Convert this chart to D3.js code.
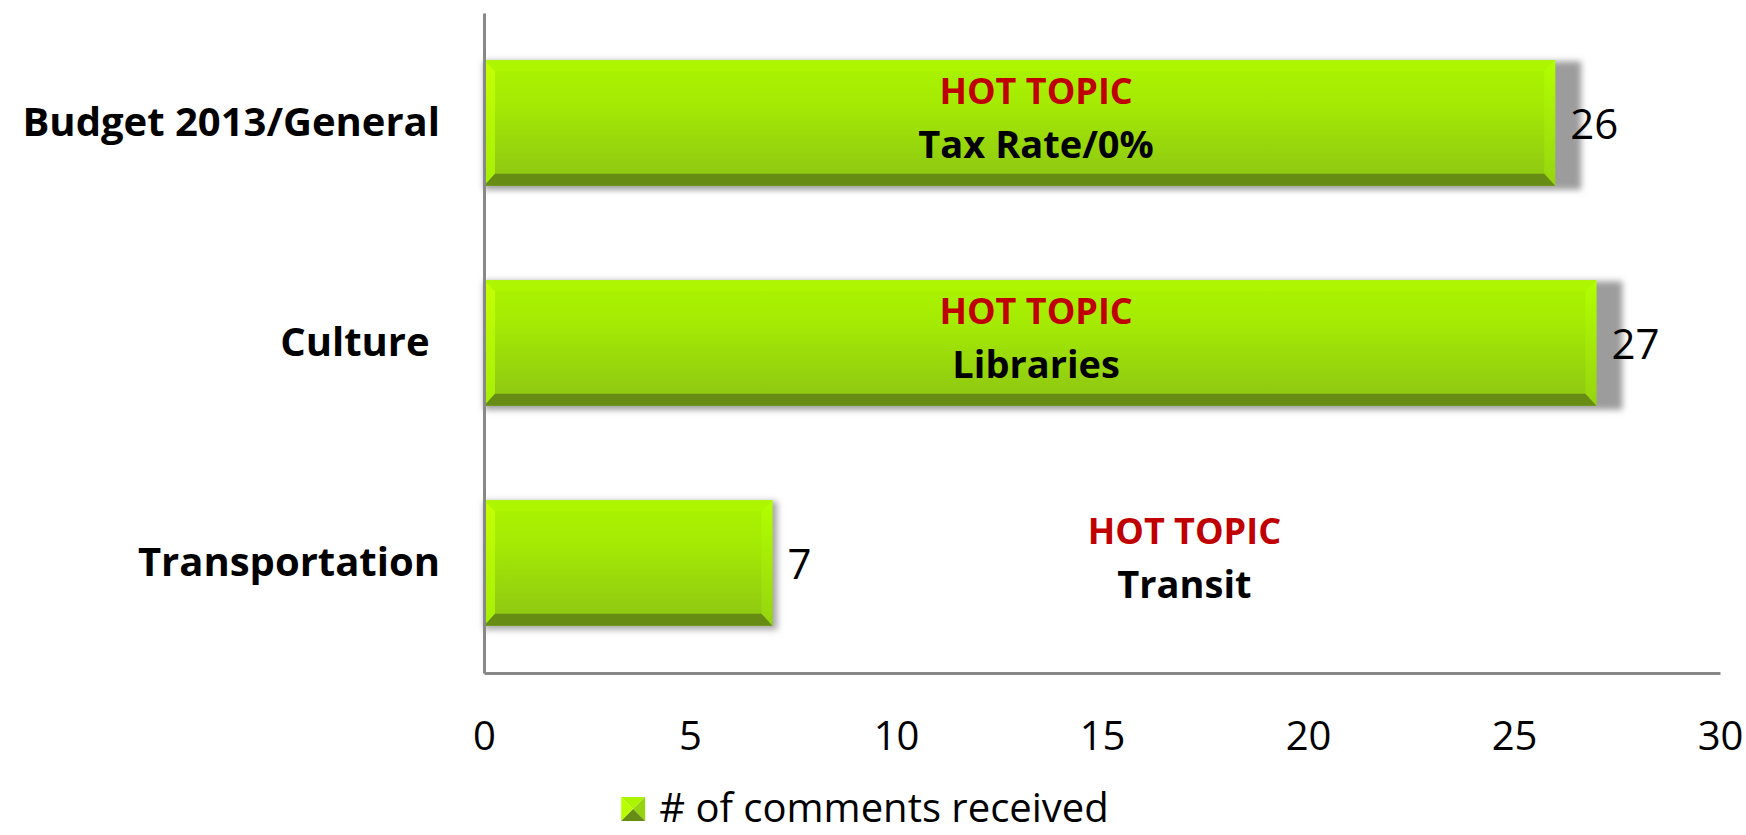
<!DOCTYPE html>
<meta charset="utf-8">
<script src="https://d3js.org/d3.v7.min.js"></script>
<style>
  body { margin: 0; background: #fff; }
  text { font-family: "Open Sans", sans-serif; }
</style>
<div id="my_dataviz"></div>
<script>

// data
var categories = ["Budget 2013/General", "Culture ", "Transportation"];
var comments = [26, 27, 7];
var seriesName = "# of comments received";
var topicTitle = "HOT TOPIC";
var hotTopics = ["Tax Rate/0%", "Libraries", "Transit"];
var topicAt = [13.4, 13.4, 17.0];        // where the note sits, in axis units
var xTicks = [0, 5, 10, 15, 20, 25, 30];

var W = 1746, H = 835;
var margin = {top: 13, right: 26, bottom: 162, left: 484},
    width = W - margin.left - margin.right,
    height = H - margin.top - margin.bottom;

var svg = d3.select("#my_dataviz")
  .append("svg")
    .attr("width", W)
    .attr("height", H);

var defs = svg.append("defs");

// face gradient of the bars
var grad = defs.append("linearGradient")
    .attr("id", "face").attr("x1", 0).attr("y1", 0).attr("x2", 0).attr("y2", 1);
grad.append("stop").attr("offset", "0%").attr("stop-color", "#abf400");
grad.append("stop").attr("offset", "35%").attr("stop-color", "#a4ea04");
grad.append("stop").attr("offset", "100%").attr("stop-color", "#8cc414");

var gl = defs.append("linearGradient")
    .attr("id", "leftEdge").attr("x1", 0).attr("y1", 0).attr("x2", 0).attr("y2", 1);
gl.append("stop").attr("offset", "0%").attr("stop-color", "#c6ff00");
gl.append("stop").attr("offset", "100%").attr("stop-color", "#a6ee08");

var gr = defs.append("linearGradient")
    .attr("id", "rightEdge").attr("x1", 0).attr("y1", 0).attr("x2", 0).attr("y2", 1);
gr.append("stop").attr("offset", "0%").attr("stop-color", "#b2ff00");
gr.append("stop").attr("offset", "100%").attr("stop-color", "#96d410");

defs.append("filter")
    .attr("id", "blur").attr("x", "-10%").attr("y", "-30%").attr("width", "120%").attr("height", "160%")
  .append("feGaussianBlur").attr("stdDeviation", 3);

var g = svg.append("g")
    .attr("transform", "translate(" + margin.left + "," + margin.top + ")");

var x = d3.scaleLinear()
  .domain([0, 30])
  .range([0, width]);

var y = d3.scaleBand()
  .domain(categories)
  .range([0, height])
  .paddingInner(0.43)
  .paddingOuter(0.215);

var rows = categories.map(function(c, i) {
  return {cat: c, value: comments[i], topic: hotTopics[i], at: topicAt[i]};
});

var bh = y.bandwidth();
var bev = 11, bevB = 12;

// shadows (wider where the note sits inside the bar)
g.selectAll("myshadows")
  .data(rows)
  .enter()
  .append("rect")
    .attr("x", 0)
    .attr("y", function(d){ return y(d.cat) + 1 })
    .attr("width", function(d){ return x(d.value) + (d.at < d.value ? 26 : 5) })
    .attr("height", bh + 3)
    .attr("fill", function(d){ return d.at < d.value ? "#9c9c9c" : "#a8a8a8" })
    .attr("filter", "url(#blur)");

// bevelled bars
var bars = g.selectAll("mybars")
  .data(rows)
  .enter()
  .append("g")
    .attr("transform", function(d){ return "translate(0," + y(d.cat) + ")" });

bars.each(function(d) {
  var w = x(d.value), h = bh, s = d3.select(this);
  s.append("rect").attr("x", 0).attr("y", 0).attr("width", w).attr("height", h).attr("fill", "url(#face)");
  s.append("polygon").attr("points", [[0,0],[w,0],[w-bev,bev],[bev,bev]].join(" ")).attr("fill", "#adf600");
  s.append("polygon").attr("points", [[0,0],[bev,bev],[bev,h-bevB],[0,h]].join(" ")).attr("fill", "url(#leftEdge)");
  s.append("polygon").attr("points", [[w,0],[w,h],[w-bev,h-bevB],[w-bev,bev]].join(" ")).attr("fill", "url(#rightEdge)");
  s.append("polygon").attr("points", [[0,h],[bev,h-bevB],[w-bev,h-bevB],[w,h]].join(" ")).attr("fill", "#668c14");
});

// value labels
g.selectAll("myvalues")
  .data(rows)
  .enter()
  .append("text")
    .attr("x", function(d){ return x(d.value) + 15 })
    .attr("y", function(d){ return y(d.cat) + bh / 2 + 16 })
    .text(function(d){ return d.value })
    .style("font-size", "42px")
    .attr("fill", "#000");

// hot topic notes
g.selectAll("mytitles")
  .data(rows)
  .enter()
  .append("text")
    .attr("x", function(d){ return x(d.at) })
    .attr("y", function(d){ return y(d.cat) + bh / 2 - 19 })
    .attr("text-anchor", "middle")
    .text(topicTitle)
    .style("font-size", "36px")
    .style("font-weight", "bold")
    .attr("fill", "#c00000");

g.selectAll("mytopics")
  .data(rows)
  .enter()
  .append("text")
    .attr("x", function(d){ return x(d.at) })
    .attr("y", function(d){ return y(d.cat) + bh / 2 + 35 })
    .attr("text-anchor", "middle")
    .text(function(d){ return d.topic })
    .style("font-size", "38px")
    .style("font-weight", "bold")
    .attr("fill", "#000");

// axes
var xAxis = g.append("g")
    .attr("transform", "translate(0," + height + ")")
    .call(d3.axisBottom(x).tickValues(xTicks).tickSize(0).tickPadding(49));
xAxis.select(".domain").attr("stroke", "#888").attr("stroke-width", 3);
xAxis.selectAll("text")
    .style("font-size", "40px")
    .attr("fill", "#000");

var yAxis = g.append("g")
    .call(d3.axisLeft(y).tickSize(0).tickPadding(44));
yAxis.select(".domain").attr("stroke", "#888").attr("stroke-width", 3);
yAxis.selectAll("text")
    .style("font-size", "40px")
    .style("font-weight", "bold")
    .style("white-space", "pre")
    .attr("fill", "#000");

// legend
var legend = svg.append("g");
var sw = 24;
legend.append("polygon").attr("points", [[0,0],[sw,0],[sw/2,sw/2]].join(" ")).attr("fill", "#abf400");
legend.append("polygon").attr("points", [[0,0],[sw/2,sw/2],[0,sw]].join(" ")).attr("fill", "#b8ff00");
legend.append("polygon").attr("points", [[sw,0],[sw,sw],[sw/2,sw/2]].join(" ")).attr("fill", "#96d410");
legend.append("polygon").attr("points", [[0,sw],[sw/2,sw/2],[sw,sw]].join(" ")).attr("fill", "#668c14");
var lt = legend.append("text")
    .attr("x", sw + 14)
    .attr("y", sw + 1)
    .text(seriesName)
    .style("font-size", "40px")
    .attr("fill", "#000");
var lw = sw + 14 + lt.node().getComputedTextLength();
legend.attr("transform", "translate(" + (W / 2 - lw / 2 - 8) + "," + 797 + ")");

</script>
